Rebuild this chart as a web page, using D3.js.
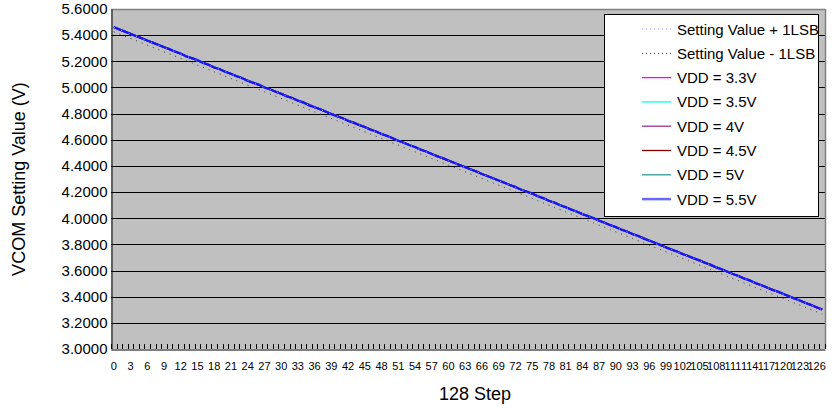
<!DOCTYPE html>
<html><head><meta charset="utf-8">
<script src="https://cdn.jsdelivr.net/npm/d3@7"></script>
<style>
html,body{margin:0;padding:0;background:#fff;}
svg{display:block;font-family:Arial,"Liberation Sans",sans-serif;}
</style></head>
<body><svg id="c" width="832" height="408"></svg>
<script>
// ---- DATA (mV) ----
const steps = d3.range(128);
const xTickLabels = d3.range(0, 127, 3);
const yTicks = [3.0,3.2,3.4,3.6,3.8,4.0,4.2,4.4,4.6,4.8,5.0,5.2,5.4,5.6];
const plus1LSB = [5460,5443,5426,5409,5392,5375,5358,5341,5324,5307,5290,5273,5256,5239,5222,5205,5188,5171,5154,5137,5120,5103,5086,5069,5052,5035,5018,5001,4984,4967,4950,4933,4916,4899,4882,4865,4848,4831,4814,4797,4780,4763,4746,4729,4712,4695,4678,4661,4644,4627,4610,4593,4576,4559,4542,4525,4508,4491,4474,4457,4440,4423,4406,4389,4372,4355,4338,4321,4304,4287,4270,4253,4236,4219,4202,4185,4168,4151,4134,4117,4100,4083,4066,4049,4032,4015,3998,3981,3964,3947,3930,3913,3896,3879,3862,3845,3828,3811,3794,3777,3760,3743,3726,3709,3692,3675,3658,3641,3624,3607,3590,3573,3556,3539,3522,3505,3488,3471,3454,3437,3420,3403,3386,3369,3352,3335,3318,3301];
const minus1LSB = [5426,5409,5392,5375,5358,5341,5324,5307,5290,5273,5256,5239,5222,5205,5188,5171,5154,5137,5120,5103,5086,5069,5052,5035,5018,5001,4984,4967,4950,4933,4916,4899,4882,4865,4848,4831,4814,4797,4780,4763,4746,4729,4712,4695,4678,4661,4644,4627,4610,4593,4576,4559,4542,4525,4508,4491,4474,4457,4440,4423,4406,4389,4372,4355,4338,4321,4304,4287,4270,4253,4236,4219,4202,4185,4168,4151,4134,4117,4100,4083,4066,4049,4032,4015,3998,3981,3964,3947,3930,3913,3896,3879,3862,3845,3828,3811,3794,3777,3760,3743,3726,3709,3692,3675,3658,3641,3624,3607,3590,3573,3556,3539,3522,3505,3488,3471,3454,3437,3420,3403,3386,3369,3352,3335,3318,3301,3284,3267];
const vdd33 = [5463,5444,5430,5407,5394,5380,5358,5344,5323,5309, 5289,5275,5256,5242,5220,5206,5192,5170,5156,5137, 5122,5102,5089,5070,5056,5033,5019,5003,4987,4966, 4950,4936,4914,4901,4883,4868,4847,4835,4814,4800, 4781,4763,4748,4728,4715,4695,4680,4662,4642,4631, 4612,4594,4577,4561,4542,4527,4509,4491,4476,4458, 4443,4424,4410,4387,4374,4360,4338,4324,4303,4289, 4269,4255,4236,4222,4200,4186,4172,4150,4136,4117, 4102,4082,4069,4050,4036,4013,3999,3983,3967,3946, 3930,3916,3894,3881,3863,3848,3827,3815,3794,3780, 3761,3743,3728,3708,3695,3675,3660,3642,3622,3611, 3592,3574,3557,3541,3522,3507,3489,3471,3456,3438, 3423,3404,3390,3367,3354,3340,3318,3304];
const vdd35 = [5459,5445,5426,5412,5390,5376,5362,5340,5326,5307, 5292,5272,5259,5240,5226,5203,5189,5173,5157,5136, 5120,5106,5084,5071,5053,5038,5017,5005,4984,4970, 4951,4933,4918,4898,4885,4865,4850,4832,4812,4801, 4782,4764,4747,4731,4712,4697,4679,4661,4646,4628, 4613,4594,4580,4557,4544,4530,4508,4494,4473,4459, 4439,4425,4406,4392,4370,4356,4342,4320,4306,4287, 4272,4252,4239,4220,4206,4183,4169,4153,4137,4116, 4100,4086,4064,4051,4033,4018,3997,3985,3964,3950, 3931,3913,3898,3878,3865,3845,3830,3812,3792,3781, 3762,3744,3727,3711,3692,3677,3659,3641,3626,3608, 3593,3574,3560,3537,3524,3510,3488,3474,3453,3439, 3419,3405,3386,3372,3350,3336,3322,3300];
const vdd40 = [5462,5442,5429,5410,5396,5373,5359,5343,5327,5306, 5290,5276,5254,5241,5223,5208,5187,5175,5154,5140, 5121,5103,5088,5068,5055,5035,5020,5002,4982,4971, 4952,4934,4917,4901,4882,4867,4849,4831,4816,4798, 4783,4764,4750,4727,4714,4700,4678,4664,4643,4629, 4609,4595,4576,4562,4540,4526,4512,4490,4476,4457, 4442,4422,4409,4390,4376,4353,4339,4323,4307,4286, 4270,4256,4234,4221,4203,4188,4167,4155,4134,4120, 4101,4083,4068,4048,4035,4015,4000,3982,3962,3951, 3932,3914,3897,3881,3862,3847,3829,3811,3796,3778, 3763,3744,3730,3707,3694,3680,3658,3644,3623,3609, 3589,3575,3556,3542,3520,3506,3492,3470,3456,3437, 3422,3402,3389,3370,3356,3333,3319,3303];
const vdd45 = [5460,5446,5424,5411,5393,5378,5357,5345,5324,5310, 5291,5273,5258,5238,5225,5205,5190,5172,5152,5141, 5122,5104,5087,5071,5052,5037,5019,5001,4986,4968, 4953,4934,4920,4897,4884,4870,4848,4834,4813,4799, 4779,4765,4746,4732,4710,4696,4682,4660,4646,4627, 4612,4592,4579,4560,4546,4523,4509,4493,4477,4456, 4440,4426,4404,4391,4373,4358,4337,4325,4304,4290, 4271,4253,4238,4218,4205,4185,4170,4152,4132,4121, 4102,4084,4067,4051,4032,4017,3999,3981,3966,3948, 3933,3914,3900,3877,3864,3850,3828,3814,3793,3779, 3759,3745,3726,3712,3690,3676,3662,3640,3626,3607, 3592,3572,3559,3540,3526,3503,3489,3473,3457,3436, 3420,3406,3384,3371,3353,3338,3317,3305];
const vdd50 = [5461,5443,5428,5408,5395,5375,5360,5342,5322,5311, 5292,5274,5257,5241,5222,5207,5189,5171,5156,5138, 5123,5104,5090,5067,5054,5040,5018,5004,4983,4969, 4949,4935,4916,4902,4880,4866,4852,4830,4816,4797, 4782,4762,4749,4730,4716,4693,4679,4663,4647,4626, 4610,4596,4574,4561,4543,4528,4507,4495,4474,4460, 4441,4423,4408,4388,4375,4355,4340,4322,4302,4291, 4272,4254,4237,4221,4202,4187,4169,4151,4136,4118, 4103,4084,4070,4047,4034,4020,3998,3984,3963,3949, 3929,3915,3896,3882,3860,3846,3832,3810,3796,3777, 3762,3742,3729,3710,3696,3673,3659,3643,3627,3606, 3590,3576,3554,3541,3523,3508,3487,3475,3454,3440, 3421,3403,3388,3368,3355,3335,3320,3302];
const vdd55 = [5462,5444,5427,5411,5392,5377,5359,5341,5326,5308, 5293,5274,5260,5237,5224,5210,5188,5174,5153,5139, 5119,5105,5086,5072,5050,5036,5022,5000,4986,4967, 4952,4932,4919,4900,4886,4863,4849,4833,4817,4796, 4780,4766,4744,4731,4713,4698,4677,4665,4644,4630, 4611,4593,4578,4558,4545,4525,4510,4492,4472,4461, 4442,4424,4407,4391,4372,4357,4339,4321,4306,4288, 4273,4254,4240,4217,4204,4190,4168,4154,4133,4119, 4099,4085,4066,4052,4030,4016,4002,3980,3966,3947, 3932,3912,3899,3880,3866,3843,3829,3813,3797,3776, 3760,3746,3724,3711,3693,3678,3657,3645,3624,3610, 3591,3573,3558,3538,3525,3505,3490,3472,3452,3441, 3422,3404,3387,3371,3352,3337,3319,3301];

const seriesNames = ["Setting Value + 1LSB","Setting Value - 1LSB","VDD = 3.3V","VDD = 3.5V","VDD = 4V","VDD = 4.5V","VDD = 5V","VDD = 5.5V"];
const seriesData = [plus1LSB, minus1LSB, vdd33, vdd35, vdd40, vdd45, vdd50, vdd55];
const seriesColors = ["#9a9aff","#333333","#ff00ff","#00ffff","#993399","#800000","#339999","#1414ff"];
const seriesWidths = [1,1,1.6,1.6,1.6,1.8,1.6,2.2];
const seriesDash = ["1,3","1,5",null,null,null,null,null,null];

// ---- LAYOUT ----
const svg = d3.select("#c");
const L = 111, R = 825, T = 9, B = 349;
const x = d3.scaleBand().domain(steps).range([L, R]).padding(0);
const y = d3.scaleLinear().domain([3.0, 5.6]).range([B, T]);
const cx = i => x(i) + x.bandwidth()/2;

svg.append("rect").attr("x",L).attr("y",T).attr("width",R-L).attr("height",B-T).attr("fill","#c0c0c0");

// gridlines
svg.append("g").selectAll("line").data(yTicks.filter(v=>v>3.0 && v<5.6)).join("line")
  .attr("x1",L).attr("x2",R).attr("y1",d=>Math.round(y(d))+0.5).attr("y2",d=>Math.round(y(d))+0.5)
  .attr("stroke","#000").attr("stroke-width",1.2);

// frame top/right gray
svg.append("line").attr("x1",L).attr("x2",R+0.5).attr("y1",T+0.5).attr("y2",T+0.5).attr("stroke","#808080").attr("stroke-width",1.5);
svg.append("line").attr("x1",R+0.5).attr("x2",R+0.5).attr("y1",T).attr("y2",B).attr("stroke","#808080").attr("stroke-width",1.5);

// series
const line = d3.line().x((d,i)=>cx(i)).y(d=>y(d/1000));
const order = [1,0,2,3,4,5,6,7];
order.forEach(k=>{
  svg.append("path").datum(seriesData[k]).attr("d",line).attr("fill","none")
    .attr("stroke",seriesColors[k]).attr("stroke-width",seriesWidths[k])
    .attr("stroke-dasharray",seriesDash[k]);
});
// +1LSB dots show sparsely over the band
svg.append("path").datum(plus1LSB).attr("d",line).attr("fill","none")
  .attr("stroke","#b0b0ff").attr("stroke-width",1).attr("stroke-dasharray","1,7");

// y axis
const yAxis = d3.axisLeft(y).tickValues(yTicks).tickFormat(d3.format(".4f")).tickSize(0).tickPadding(4);
const gy = svg.append("g").attr("transform",`translate(${L+0.5},0)`).call(yAxis);
gy.select(".domain").attr("stroke","#000");
gy.selectAll("text").attr("font-size","15px").attr("fill","#000").attr("font-family","Arial, 'Liberation Sans', sans-serif");

// x axis
const xAxis = d3.axisBottom(x).tickValues(xTickLabels).tickSize(0).tickPadding(13);
const gx = svg.append("g").attr("transform",`translate(0,${B+0.5})`).call(xAxis);
gx.select(".domain").attr("stroke","#000");
gx.selectAll("text").attr("font-size","11px").attr("fill","#000").attr("font-family","Arial, 'Liberation Sans', sans-serif");
// inner tick marks at category boundaries
svg.append("g").selectAll("line").data(d3.range(129)).join("line")
  .attr("x1",i=>Math.round(L + i*x.bandwidth())+0.5).attr("x2",i=>Math.round(L + i*x.bandwidth())+0.5)
  .attr("y1",B).attr("y2",B-5).attr("stroke","#000").attr("stroke-width",1);

// axis titles
svg.append("text").attr("transform","translate(19,179) rotate(-90)").attr("text-anchor","middle")
  .attr("dominant-baseline","central").attr("font-size","18px").text("VCOM Setting Value (V)");
svg.append("text").attr("x",475).attr("y",400).attr("text-anchor","middle").attr("font-size","18px").text("128 Step");

// legend
const lg = svg.append("g");
lg.append("rect").attr("x",604.5).attr("y",14.5).attr("width",214).attr("height",202).attr("fill","#fff").attr("stroke","#000");
seriesNames.forEach((n,k)=>{
  const yy = 29 + k*24.3;
  lg.append("line").attr("x1",642).attr("x2",671).attr("y1",yy).attr("y2",yy)
    .attr("stroke",k===7?"#6868ff":seriesColors[k]).attr("stroke-width",k===7?2.5:(k<2?1:1.3)).attr("stroke-dasharray",k<2?"1,3":null);
  lg.append("text").attr("x",677).attr("y",yy).attr("dominant-baseline","central").attr("font-size","15px").text(n);
});
</script></body></html>
